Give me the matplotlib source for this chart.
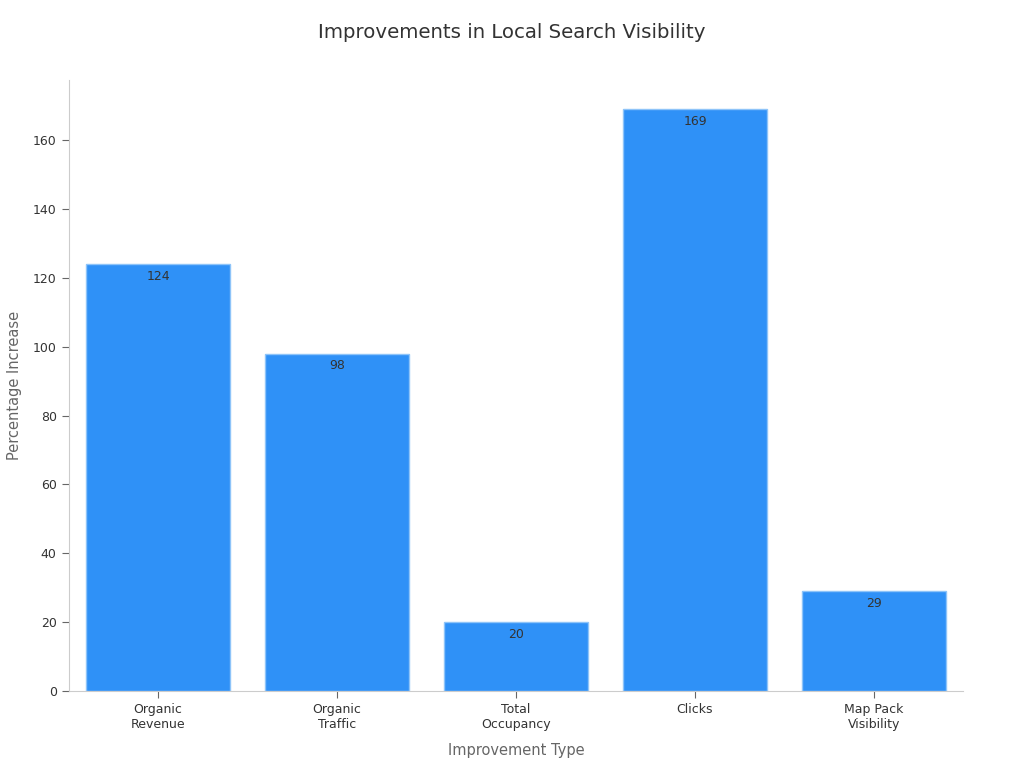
import matplotlib
matplotlib.use("Agg")
import matplotlib.pyplot as plt

# --- DATA ---
categories = ["Organic\nRevenue", "Organic\nTraffic", "Total\nOccupancy", "Clicks", "Map Pack\nVisibility"]
values = [124, 98, 20, 169, 29]

# --- FIGURE ---
fig = plt.figure(figsize=(10.24, 7.68), dpi=100)
ax = fig.add_axes([0.0669, 0.1003, 0.874, 0.7955])

x = range(len(categories))
bars = ax.bar(x, values, width=0.8, color="#2F91F7", edgecolor="#8EC4F9", linewidth=1)

for b, v in zip(bars, values):
    ax.annotate(str(v), (b.get_x() + b.get_width() / 2, v), xytext=(0, -4),
                textcoords="offset points", ha="center", va="top",
                fontsize=9, color="#333333")

ax.set_xlim(-0.5, 4.5)
ax.set_ylim(0, 177.5)
ax.set_xticks(list(x))
ax.set_xticklabels(categories, fontsize=9, color="#333333")
ax.set_yticks(range(0, 161, 20))
ax.tick_params(axis="y", labelsize=9, labelcolor="#333333", color="#666666", length=5)
ax.tick_params(axis="x", color="#666666", length=5)

for s in ["top", "right"]:
    ax.spines[s].set_visible(False)
for s in ["left", "bottom"]:
    ax.spines[s].set_color("#cccccc")

ax.set_xlabel("Improvement Type", fontsize=10.5, color="#666666", labelpad=9)
ax.set_ylabel("Percentage Increase", fontsize=10.5, color="#666666", labelpad=8)
fig.suptitle("Improvements in Local Search Visibility", fontsize=14.2, color="#333333", y=0.97)

fig.savefig("out.png", dpi=100)
